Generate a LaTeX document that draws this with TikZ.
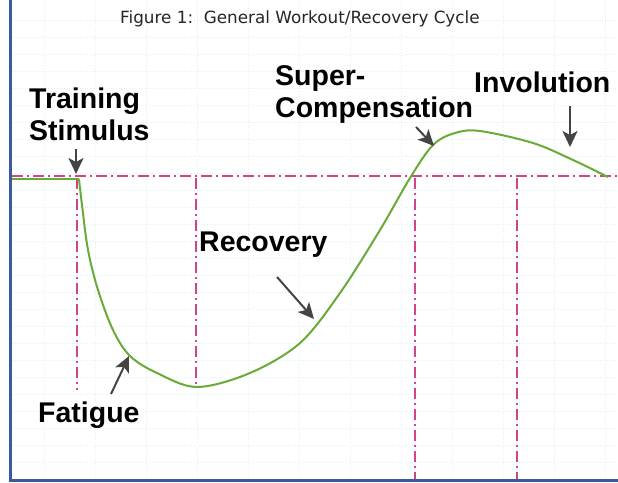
\documentclass[tikz,border=0pt]{standalone}
\usepackage{fontspec}
\setmainfont{Liberation Sans}
\newfontfamily\titlefont{DejaVu Sans}
\usetikzlibrary{arrows.meta}
\definecolor{axisblue}{HTML}{3A5A9E}
\definecolor{guidepink}{HTML}{D2448A}
\definecolor{curvegreen}{HTML}{6AAA38}
\definecolor{arrowgray}{HTML}{444444}
\definecolor{gridtint}{HTML}{DDF6F3}
\tikzset{
  axisline/.style={draw=axisblue,line width=3pt},
  guideline/.style={draw=guidepink,line width=1.4pt,dash pattern=on 11pt off 4pt on 2pt off 4pt},
  curveline/.style={draw=curvegreen,line width=2pt,line join=round},
  pointer/.style={draw=arrowgray,line width=2pt,-{Stealth[length=16pt,width=15pt,inset=4pt]}},
  biglabel/.style={font=\bfseries\fontsize{28.5}{32}\selectfont,anchor=base west,inner sep=0pt,align=left},
  titlelabel/.style={font=\titlefont\fontsize{16.8}{18}\selectfont,text=black!85,anchor=base west,inner sep=0pt}
}
\begin{document}
\begin{tikzpicture}[x=1pt,y=-1pt]
\useasboundingbox (0,0) rectangle (618,482);
\fill[white] (0,0) rectangle (618,482);
% faint graph-paper grid
\foreach \gy in {20,37,...,470} \draw[gridtint,line width=0.6pt,dotted] (12,\gy) -- (618,\gy);
\foreach \gx in {44,95,...,618} \draw[gridtint,line width=0.6pt,dotted] (\gx,0) -- (\gx,478);
% title
\node[titlelabel] (title) at (120,23) {Figure 1:\ \ General Workout/Recovery Cycle};
% baseline and phase markers
\draw[guideline] (12,176) -- (618,176);
\draw[guideline] (77,178) -- (77,390);
\draw[guideline] (196,178) -- (196,387);
\draw[guideline] (415,178) -- (415,480);
\draw[guideline] (517,178) -- (517,480);
% axes
\draw[axisline] (10,0) -- (10,480) -- (618,480);
% workout/recovery curve
\draw[curveline] (12,179) -- (79,179);
\draw[curveline] plot[smooth,tension=0.55] coordinates {
  (79,179) (82,205) (88,250) (98,290) (113,330) (130,356) (157,373)
  (197,387) (250,373) (300,343) (340,293) (380,230) (410,178)
  (433,145) (455,133) (480,131) (533,143) (573,160) (608,177)};
% labels (base anchor sits on the last line)
\node[biglabel] (stim) at (29,140) {Training\\Stimulus};
\node[biglabel] (super) at (275,117) {Super-\\Compensation};
\node[biglabel] (invol) at (474,92) {Involution};
\node[biglabel] (recov) at (199,251) {Recovery};
\node[biglabel] (fatig) at (38,422) {Fatigue};
% pointer ends
\coordinate (stimTail) at (76,149);
\coordinate (stimTip) at (76,174);
\coordinate (superTail) at (416,127);
\coordinate (superTip) at (434,146);
\coordinate (involTail) at (570,106);
\coordinate (involTip) at (570,147);
\coordinate (recovTail) at (277,277);
\coordinate (recovTip) at (314,319);
\coordinate (fatigTail) at (111,394);
\coordinate (fatigTip) at (129,356);
\draw[pointer] (stimTail) -- (stimTip);
\draw[pointer] (superTail) -- (superTip);
\draw[pointer] (involTail) -- (involTip);
\draw[pointer] (recovTail) -- (recovTip);
\draw[pointer] (fatigTail) -- (fatigTip);
\end{tikzpicture}
\end{document}
